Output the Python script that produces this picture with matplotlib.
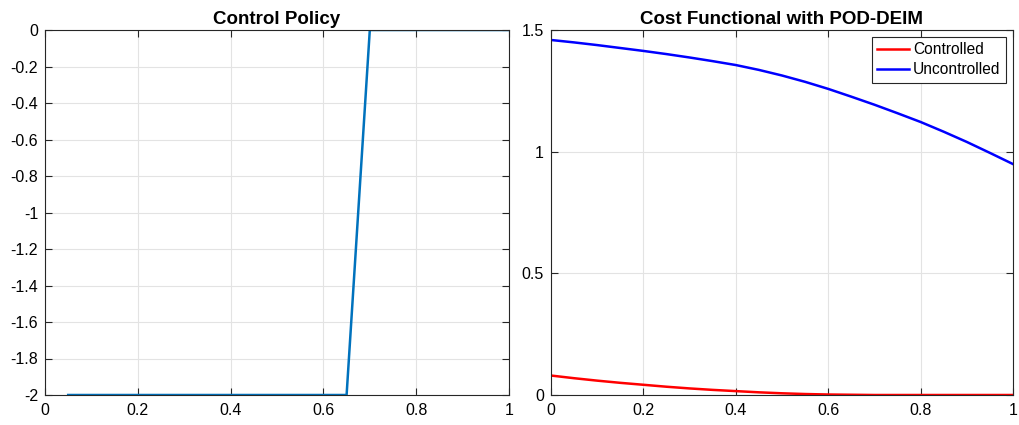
import numpy as np
import matplotlib
matplotlib.use('Agg')
from matplotlib import pyplot as plt

plt.rcParams['font.family'] = ['Liberation Sans', 'DejaVu Sans']

# control policy sampled on the time grid
t_ctrl = [0.05, 0.10, 0.15, 0.20, 0.25, 0.30, 0.35, 0.40, 0.45, 0.50, 0.55,
          0.60, 0.65, 0.70, 0.75, 0.80, 0.85, 0.90, 0.95, 1.00]
u_ctrl = [-2, -2, -2, -2, -2, -2, -2, -2, -2, -2, -2,
          -2, -2, 0, 0, 0, 0, 0, 0, 0]

# cost functional, POD-DEIM reduced model
t_cost = [0.00, 0.05, 0.10, 0.15, 0.20, 0.25, 0.30, 0.35, 0.40, 0.45, 0.50,
          0.55, 0.60, 0.65, 0.70, 0.75, 0.80, 0.85, 0.90, 0.95, 1.00]
cost_controlled = [0.080, 0.069, 0.059, 0.050, 0.042, 0.034, 0.027, 0.021, 0.016,
                   0.011, 0.007, 0.004, 0.002, 0.001, 0.0, 0.0, 0.0, 0.0, 0.0,
                   0.0, 0.0]
cost_uncontrolled = [1.459, 1.449, 1.438, 1.426, 1.414, 1.401, 1.387, 1.372, 1.356,
                     1.336, 1.313, 1.287, 1.258, 1.226, 1.193, 1.158, 1.122, 1.082,
                     1.040, 0.995, 0.949]

xticks = [0, 0.2, 0.4, 0.6, 0.8, 1]
xticklabels = ['0', '0.2', '0.4', '0.6', '0.8', '1']
yticks_left = np.round(np.arange(-2, 0.01, 0.2), 1)
yticks_right = [0, 0.5, 1, 1.5]

fig = plt.figure(figsize=(10.2, 4.25), dpi=100)
ax1 = fig.add_axes([45/1020, 30/425, 464/1020, 365/425])
ax2 = fig.add_axes([551/1020, 30/425, 462/1020, 365/425])


def matlab_style(ax):
    ax.grid(True, color='#e3e3e3', linewidth=0.8)
    ax.set_axisbelow(True)
    ax.tick_params(direction='in', top=True, right=True, length=5,
                   width=0.8, color='#262626', labelsize=11.5)
    ax.tick_params(axis='x', pad=6)
    ax.tick_params(axis='y', pad=5)
    for s in ax.spines.values():
        s.set_color('#262626')
        s.set_linewidth(0.8)


ax1.plot(t_ctrl, u_ctrl, color='#0072BD', linewidth=1.8)
ax1.set_xlim(0, 1)
ax1.set_ylim(-2, 0)
ax1.set_xticks(xticks)
ax1.set_xticklabels(xticklabels)
ax1.set_yticks(yticks_left)
ax1.set_yticklabels(['%g' % v if v != 0 else '0' for v in yticks_left])
ax1.set_title('Control Policy', fontsize=13.5, fontweight='bold', pad=4)
matlab_style(ax1)

ax2.plot(t_cost, cost_controlled, color='red', linewidth=1.8, label='Controlled')
ax2.plot(t_cost, cost_uncontrolled, color='blue', linewidth=1.8, label='Uncontrolled')
ax2.set_xlim(0, 1)
ax2.set_ylim(0, 1.5)
ax2.set_xticks(xticks)
ax2.set_xticklabels(xticklabels)
ax2.set_yticks(yticks_right)
ax2.set_yticklabels(['0', '0.5', '1', '1.5'])
ax2.set_title('Cost Functional with POD-DEIM', fontsize=13.5, fontweight='bold', pad=4)
matlab_style(ax2)
leg = ax2.legend(loc='upper right', fontsize=11.2, fancybox=False, framealpha=1,
                 edgecolor='#262626', handlelength=2.0, borderpad=0.35,
                 labelspacing=0.3, handletextpad=0.3, borderaxespad=0.45)
leg.get_frame().set_linewidth(0.8)

fig.savefig('out.png', dpi=100)
